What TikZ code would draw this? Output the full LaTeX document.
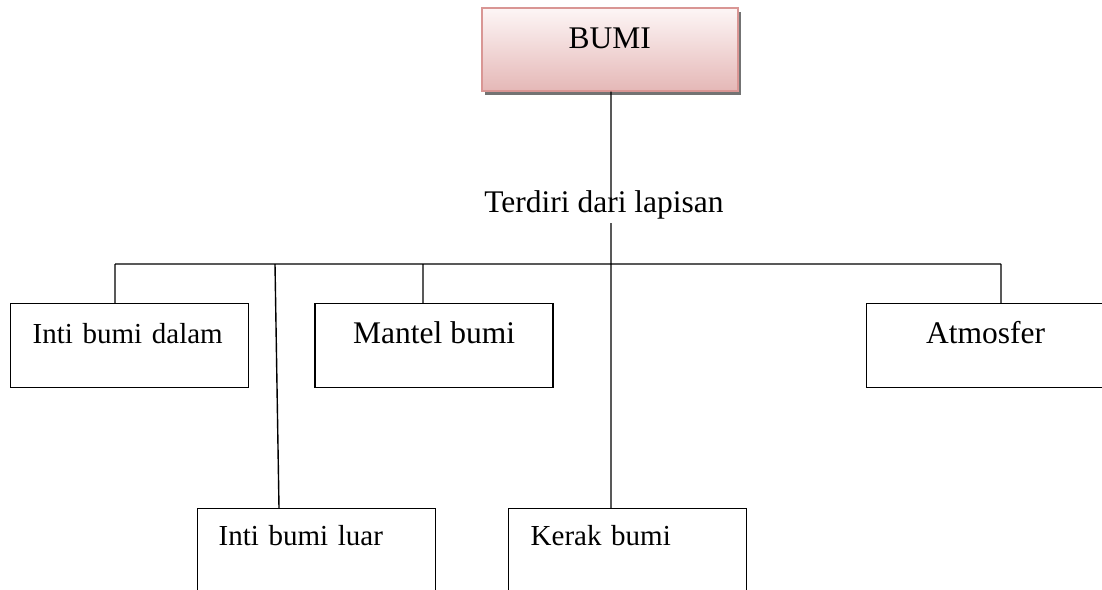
\documentclass[tikz,border=0pt]{standalone}
\usepackage{fontspec}
\setmainfont{Liberation Serif}
\usetikzlibrary{positioning, shadows}
\definecolor{bumiedge}{HTML}{D99694}
\definecolor{bumitop}{HTML}{FDF6F6}
\definecolor{bumibottom}{HTML}{E5B8B7}
\tikzset{
  every node/.style={font=\fontsize{31.5}{37}\selectfont, inner sep=0pt},
  layer/.style={draw, line width=1.4pt, minimum width=238pt,
    text height=40pt, text depth=44pt, anchor=north west},
  leftlayer/.style={layer, font=\fontsize{29}{35}\selectfont, align=left,
    text width=194pt, inner xsep=22pt},
  deep/.style={text height=37pt, text depth=100pt},
  root/.style={draw=bumiedge, line width=1.5pt, top color=bumitop,
    bottom color=bumibottom, minimum width=256pt, text height=41pt,
    text depth=42pt, anchor=north west,
    general shadow={fill=black!55, shadow xshift=3pt, shadow yshift=-4pt}},
  conn/.style={line width=1.4pt},
}
\begin{document}
\begin{tikzpicture}[x=1pt, y=-1pt]
      \useasboundingbox (0,0) rectangle (1102,589);
      \clip (0,0) rectangle (1102,589);

      \node[root]                          (bumi)   at (481,7)   {BUMI};
      \node[anchor=base]                   (lapis)  at (604,212) {Terdiri dari lapisan};
      \node[leftlayer]                     (dalam)  at (10,303)  {Inti bumi dalam};
      \node[layer,right=65pt of dalam]     (mantel)              {Mantel bumi};
      \node[layer,right=312pt of mantel]   (atmos)               {Atmosfer};
      \node[leftlayer,deep,inner xsep=21pt,text width=196pt]
                                           (luar)   at (197,508) {Inti bumi luar};
      \node[leftlayer,deep]                (kerak)  at (508,508) {Kerak bumi};

      \coordinate (hub)     at (611,264);
      \coordinate (gap)     at (611,223);
      \coordinate (jdalam)  at (115,264);
      \coordinate (jluar)   at (275,264);
      \coordinate (jmantel) at (423,264);
      \coordinate (jatmos)  at (1001,264);

      \draw[conn] (bumi.south -| hub) -- (lapis.base -| hub)
                  (gap) -- (hub)
                  (jdalam) -- (jatmos)
                  (jdalam) -- (jdalam |- dalam.north)
                  (jmantel) -- (jmantel |- mantel.north)
                  (jatmos) -- (jatmos |- atmos.north)
                  (hub) -- (hub |- kerak.north)
                  (jluar) -- ([xshift=82pt]luar.north west);
    \end{tikzpicture}
\end{document}
